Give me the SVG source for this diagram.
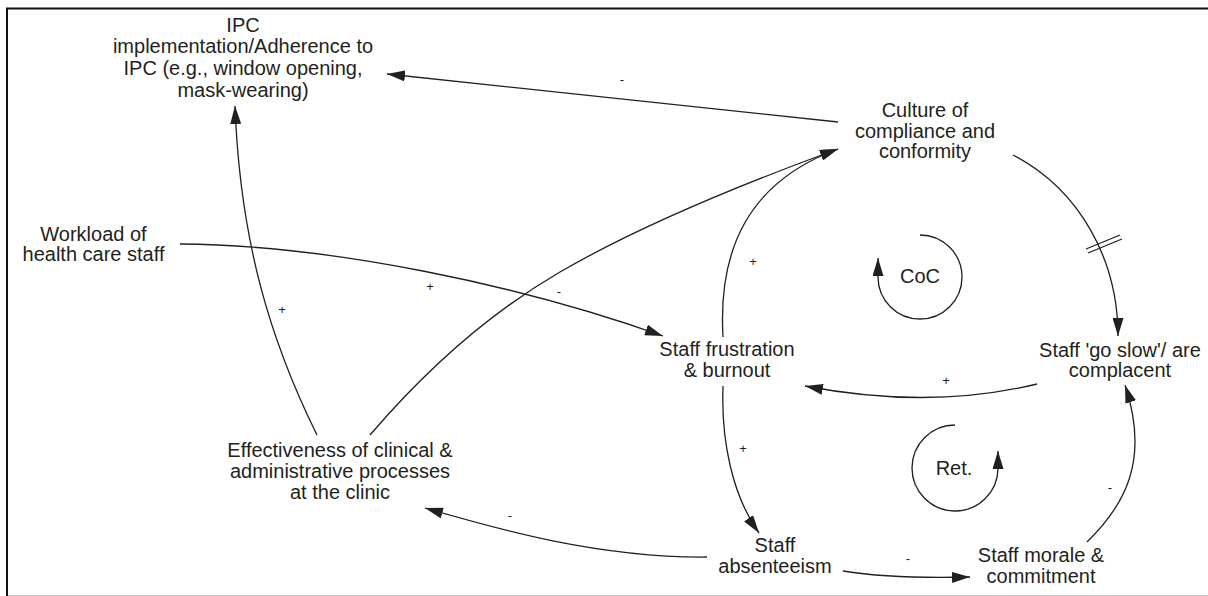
<svg xmlns="http://www.w3.org/2000/svg" width="1208" height="596" viewBox="0 0 1208 596">
<defs>
<style>
.lbl{font-family:"Liberation Sans",Arial,Helvetica,sans-serif;font-size:20px;fill:#231f20;text-anchor:middle}
.pol{font-family:"Liberation Sans",Arial,Helvetica,sans-serif;font-size:13px;fill:#231f20;text-anchor:middle}
.c{fill:none;stroke:#231f20;stroke-width:1.3}
.ca{fill:none;stroke:#231f20;stroke-width:1.3;marker-end:url(#ah)}
</style>
<marker id="ah" markerUnits="userSpaceOnUse" markerWidth="18" markerHeight="11" viewBox="0 0 18 11" refX="18" refY="5.5" orient="auto">
<path d="M0,0 L18,5.5 L0,11 z" fill="#231f20"/>
</marker>
</defs>
<rect width="1208" height="596" fill="#fff"/>
<g id="frame">
<line x1="6" y1="8.5" x2="1208" y2="8.5" stroke="#111" stroke-width="2"/>
<line x1="7" y1="8" x2="7" y2="596" stroke="#111" stroke-width="2"/>
<line x1="8" y1="595.5" x2="1208" y2="595.5" stroke="#c8c8c8" stroke-width="1"/>
</g>
<g id="connectors">
<path class="ca" d="M838,122 L387,74"/>
<path class="ca" d="M317,435 C270,340 240,240 235,106"/>
<path class="ca" d="M370,435 Q460,330 560,272 T838,149"/>
<path class="ca" d="M723,337 C718,250 748,182 838,149"/>
<path class="ca" d="M180,244 C330,245 520,285 663,336"/>
<path class="ca" d="M1013,155 C1080,190 1118,260 1118,336"/>
<path class="c" d="M1086,249 L1120,235 M1088,253 L1122,239"/>
<path class="ca" d="M1037,384 Q930,410 805,386"/>
<path class="ca" d="M723,386 C721,440 732,495 759,533"/>
<path class="ca" d="M707,557 C600,558 500,530 425,508"/>
<path class="ca" d="M843,571 C880,577 930,578 970,577"/>
<path class="ca" d="M1087,542 C1125,505 1150,460 1125,385"/>
<text class="pol" x="622" y="84">-</text>
<text class="pol" x="282" y="313.5">+</text>
<text class="pol" x="430" y="291">+</text>
<text class="pol" x="559" y="295.5">-</text>
<text class="pol" x="753" y="266">+</text>
<text class="pol" x="946" y="385">+</text>
<text class="pol" x="743" y="452.5">+</text>
<text class="pol" x="510" y="519.5">-</text>
<text class="pol" x="908" y="562.5">-</text>
<text class="pol" x="1110" y="491.5">-</text>
</g>
<g id="n-ipc">
<text class="lbl" x="243" y="31.5">IPC</text>
<text class="lbl" x="243" y="53">implementation/Adherence to</text>
<text class="lbl" x="243" y="75">IPC (e.g., window opening,</text>
<text class="lbl" x="243" y="96.5">mask-wearing)</text>
</g>
<g id="n-culture">
<text class="lbl" x="925" y="117">Culture of</text>
<text class="lbl" x="925" y="137.5">compliance and</text>
<text class="lbl" x="925" y="158">conformity</text>
</g>
<g id="n-workload">
<text class="lbl" x="93.5" y="240.5">Workload of</text>
<text class="lbl" x="93.5" y="260.5">health care staff</text>
</g>
<g id="n-frustration">
<text class="lbl" x="727" y="356">Staff frustration</text>
<text class="lbl" x="727" y="376.5">&amp; burnout</text>
</g>
<g id="n-goslow">
<text class="lbl" x="1120" y="356.5">Staff 'go slow'/ are</text>
<text class="lbl" x="1120" y="376.5">complacent</text>
</g>
<g id="n-effectiveness">
<text class="lbl" x="340" y="456.5">Effectiveness of clinical &amp;</text>
<text class="lbl" x="340" y="477.5">administrative processes</text>
<text class="lbl" x="340" y="498.5">at the clinic</text>
</g>
<g id="n-absenteeism">
<text class="lbl" x="775" y="552">Staff</text>
<text class="lbl" x="775" y="572.5">absenteeism</text>
</g>
<g id="n-morale">
<text class="lbl" x="1041" y="562">Staff morale &amp;</text>
<text class="lbl" x="1041" y="582.5">commitment</text>
</g>
<g id="loop-coc">
<path class="ca" d="M920,235 A42,42 0 1 1 878,277 L878,258"/>
<text class="lbl" x="920" y="283">CoC</text>
</g>
<g id="loop-ret">
<path class="ca" d="M955,425 A43,43 0 1 0 998,469 L998,451"/>
<text class="lbl" x="954" y="475">Ret.</text>
</g>
</svg>
